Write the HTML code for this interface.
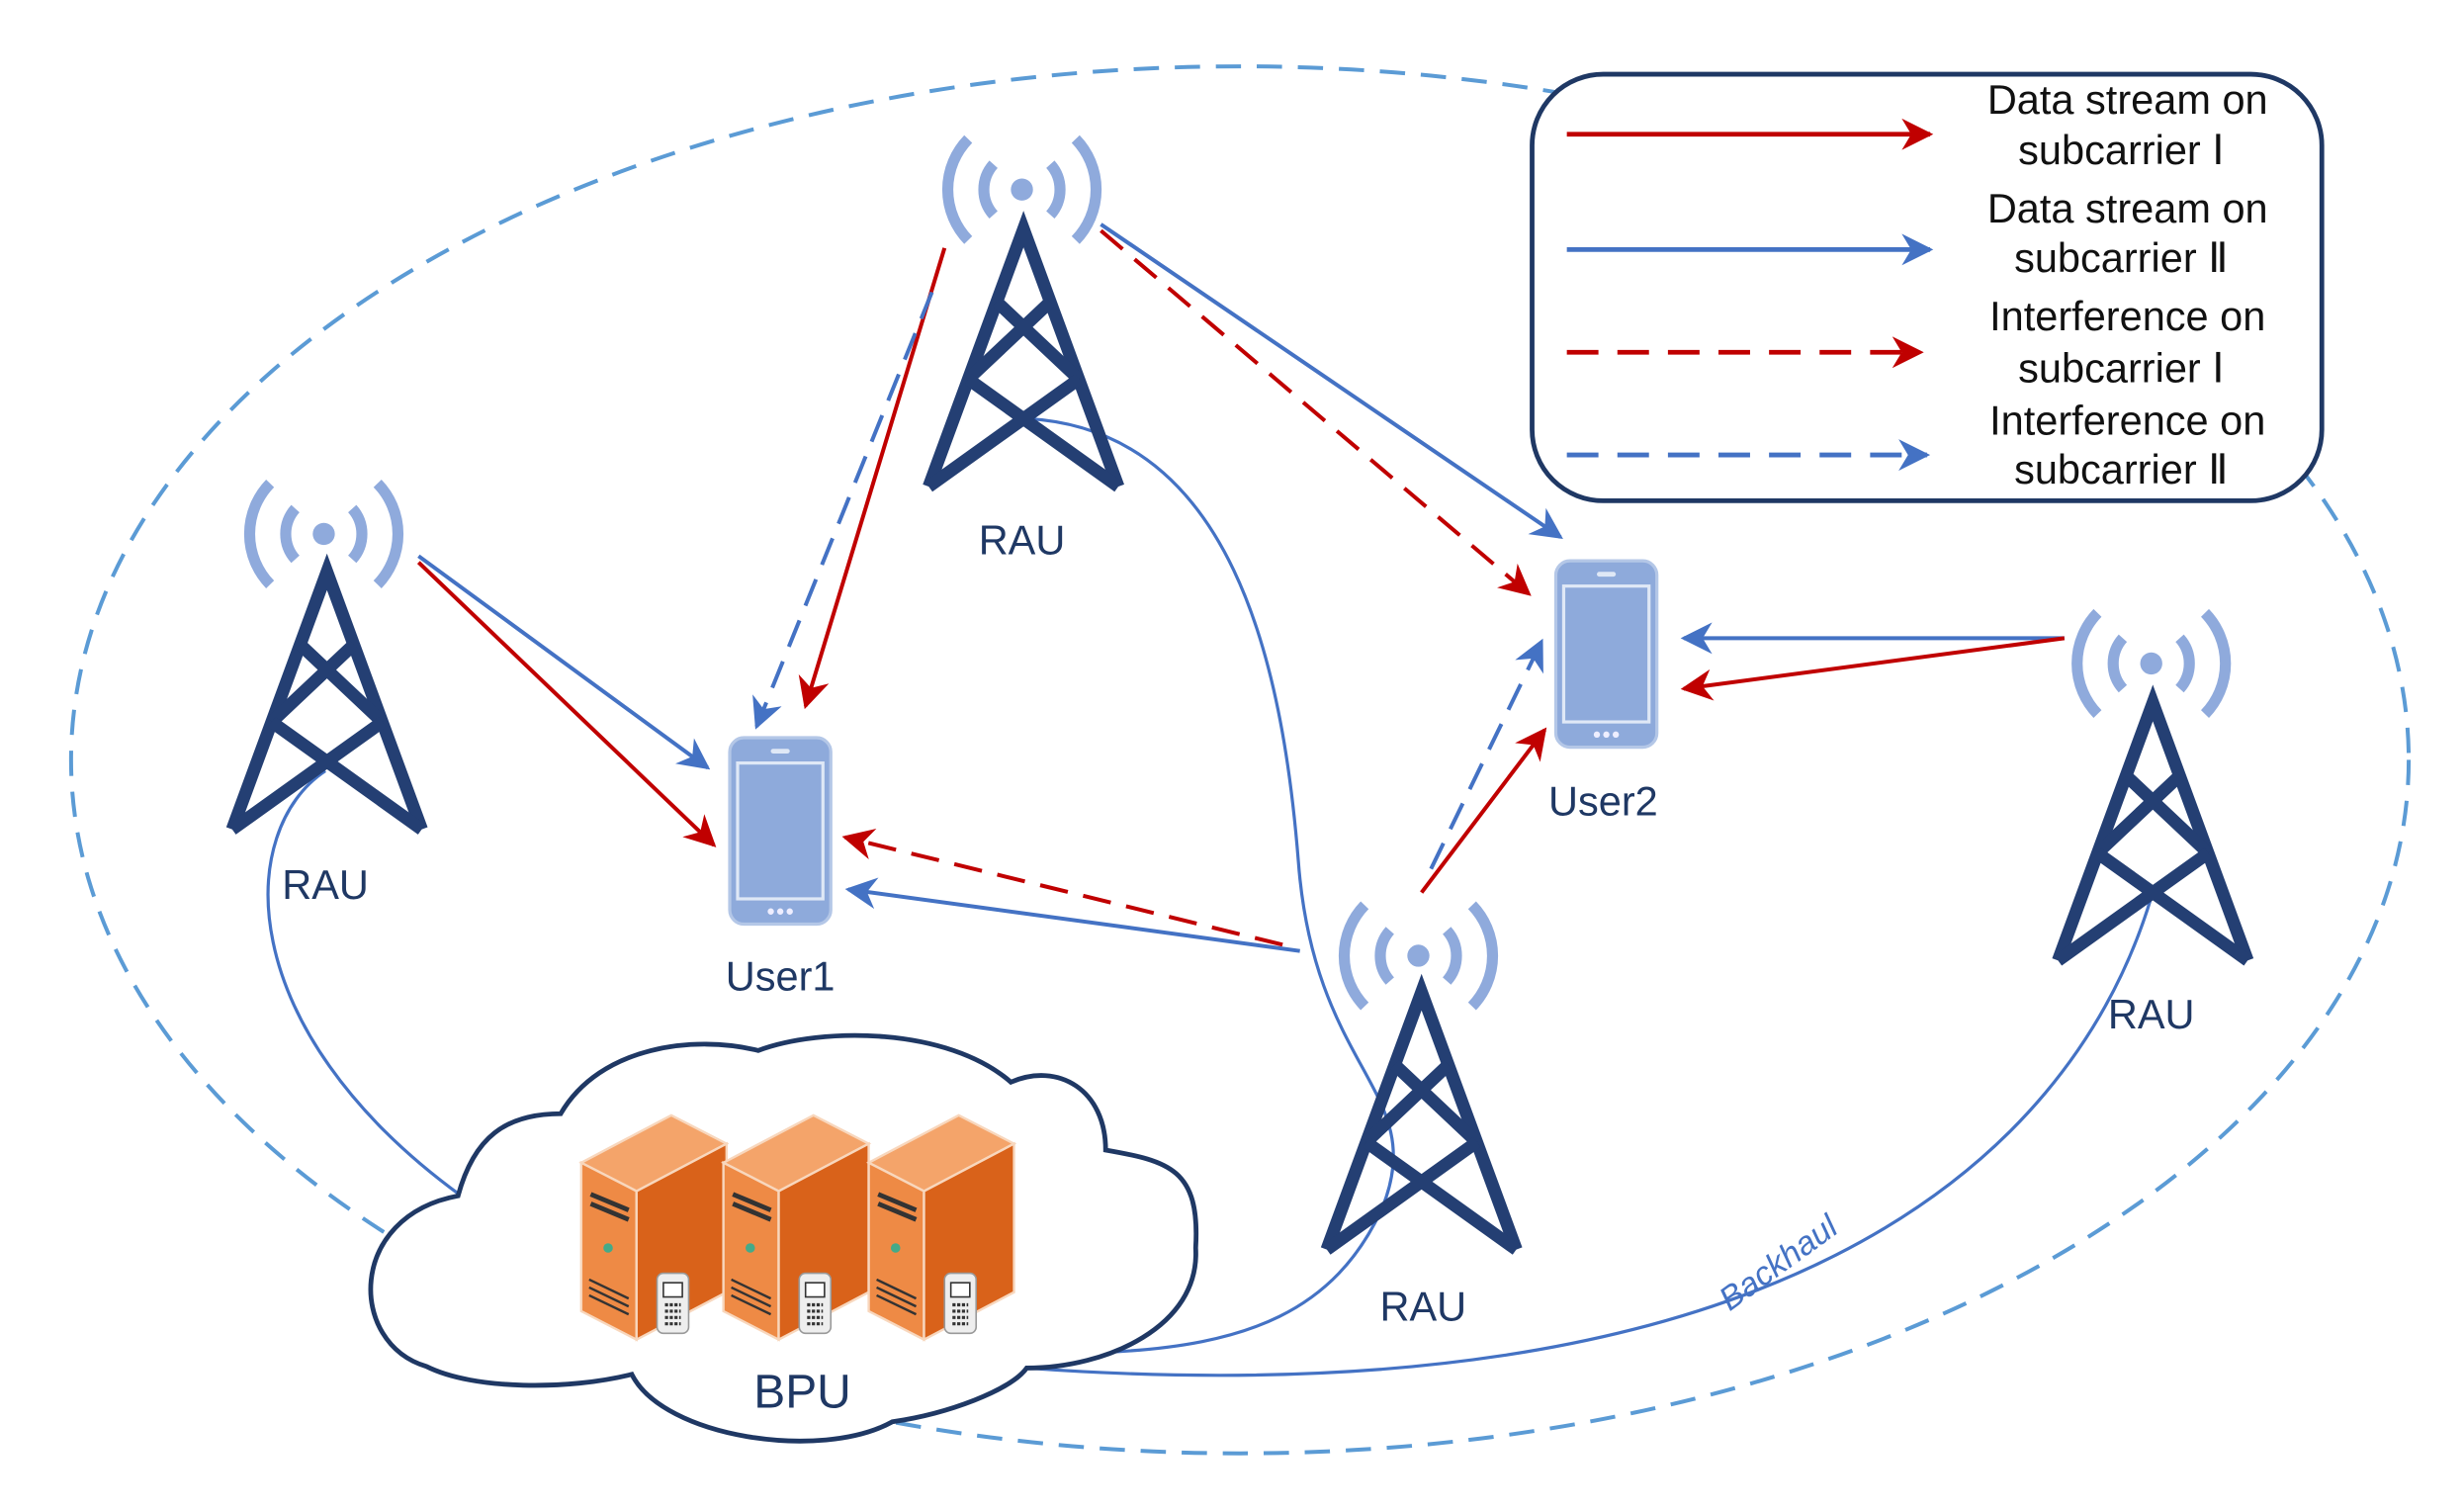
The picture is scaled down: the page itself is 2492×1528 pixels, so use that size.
<!DOCTYPE html>
<html><head><meta charset="utf-8"><style>
html,body{margin:0;padding:0;background:#fff;}
svg{display:block;}
text{font-family:"Liberation Sans","DejaVu Sans",sans-serif;}
</style></head><body>
<svg width="2492" height="1528" viewBox="0 0 1560 956.5" preserveAspectRatio="none" xmlns="http://www.w3.org/2000/svg">
<defs>
<marker id="ar" viewBox="0 0 10 10" refX="9" refY="5" markerWidth="7" markerHeight="7" markerUnits="userSpaceOnUse" orient="auto"><path d="M0,0 L10,5 L0,10 L3,5 Z" fill="#c00000"/></marker>
<marker id="ab" viewBox="0 0 10 10" refX="9" refY="5" markerWidth="7" markerHeight="7" markerUnits="userSpaceOnUse" orient="auto"><path d="M0,0 L10,5 L0,10 L3,5 Z" fill="#4472c4"/></marker>
<marker id="arL" viewBox="0 0 10 10" refX="9" refY="5" markerWidth="20" markerHeight="20" markerUnits="userSpaceOnUse" orient="auto"><path d="M0,0 L10,5 L0,10 L3,5 Z" fill="#c00000"/></marker>
<marker id="abL" viewBox="0 0 10 10" refX="9" refY="5" markerWidth="20" markerHeight="20" markerUnits="userSpaceOnUse" orient="auto"><path d="M0,0 L10,5 L0,10 L3,5 Z" fill="#4472c4"/></marker>
<g id="tower" fill="none" stroke="#243f73" stroke-width="8" stroke-linejoin="miter">
  <path d="M-60,163 L0,0 L60,163"/>
  <path d="M-17,46 L35,95 M17,46 L-35,95"/>
  <path d="M-35,95 L60,163 M35,95 L-60,163"/>
</g>
<g id="waves" fill="none" stroke="#8faadc" stroke-width="7">
  <circle cx="0" cy="0" r="7" fill="#8faadc" stroke="none"/>
  <path d="M-18,-16 A24,24 0 0 0 -18,16 M18,-16 A24,24 0 0 1 18,16"/>
  <path d="M-34,-32 A46,46 0 0 0 -34,32 M34,-32 A46,46 0 0 1 34,32"/>
</g>
<g id="phone">
  <rect x="0" y="0" width="64" height="118" rx="9" fill="#8eaadb" stroke="#b4c7e7" stroke-width="2"/>
  <rect x="5" y="16" width="54" height="86" fill="#8eaadb" stroke="#dfe8f6" stroke-width="2"/>
  <rect x="26" y="7" width="12" height="3" rx="1.5" fill="#dfe8f6"/>
  <circle cx="26" cy="110" r="2" fill="#eef"/><circle cx="32" cy="110" r="2" fill="#eef"/><circle cx="38" cy="110" r="2" fill="#eef"/>
</g>
<g id="server">
  <path d="M0,30 L57,0 L92,18 L35,48 Z" fill="#f4a46a" stroke="#f8d7bd" stroke-width="1.5"/>
  <path d="M0,30 L35,48 L35,142 L0,124 Z" fill="#ee8a45" stroke="#f8d7bd" stroke-width="1.5"/>
  <path d="M35,48 L92,18 L92,112 L35,142 Z" fill="#d9621a" stroke="#f8d7bd" stroke-width="1.5"/>
  <path d="M6,50 L30,60 M6,56 L30,66" stroke="#333" stroke-width="3"/>
  <circle cx="17" cy="84" r="3" fill="#4a8"/>
  <path d="M5,104 L30,116 M5,109 L30,121 M5,114 L30,126" stroke="#333" stroke-width="1.5"/>
  <rect x="48" y="100" width="20" height="38" rx="4" fill="#eee" stroke="#999" stroke-width="1"/>
  <rect x="52" y="106" width="12" height="9" fill="#fff" stroke="#333" stroke-width="1"/>
  <path d="M53,120 h10 M53,124 h10 M53,128 h10 M53,132 h10" stroke="#333" stroke-width="2" stroke-dasharray="2,1"/>
</g>
</defs>

<!-- big dashed ellipse -->
<ellipse cx="785" cy="481" rx="740" ry="439" fill="none" stroke="#5b9bd5" stroke-width="2.5" stroke-dasharray="16,10"/>

<!-- backhaul lines -->
<g fill="none" stroke="#4472c4" stroke-width="2">
  <path d="M206,488 C150,525 145,650 292,757"/>
  <path d="M650,265 C780,272 812,420 822,545 C832,680 905,690 875,765 C845,830 790,852 700,856"/>
  <path d="M1362,568 C1310,740 1120,900 650,866"/>
</g>
<text x="1130" y="805" font-size="21" fill="#4472c4" font-style="italic" transform="rotate(-36 1130 805)" text-anchor="middle">Backhaul</text>

<!-- cloud -->
<path d="M290,757 C220,770 220,850 270,865 C300,880 360,880 400,870 C420,910 520,925 565,900 C600,895 640,880 650,866 C700,866 760,840 757,790 C760,740 740,735 700,728 C700,690 670,672 640,685 C600,650 520,650 480,665 C440,655 380,662 355,705 C320,705 300,720 290,757 Z" fill="#fff" stroke="#1f3864" stroke-width="3"/>
<use href="#server" x="368" y="706"/>
<use href="#server" x="458" y="706"/>
<use href="#server" x="550" y="706"/>
<text x="508" y="891" font-size="30" fill="#1f3864" text-anchor="middle">BPU</text>

<!-- towers -->
<use href="#tower" x="207" y="362"/><use href="#waves" x="205" y="338"/>
<use href="#tower" x="648" y="145"/><use href="#waves" x="647" y="120"/>
<use href="#tower" x="900" y="628"/><use href="#waves" x="898" y="605"/>
<use href="#tower" x="1363" y="445"/><use href="#waves" x="1362" y="420"/>

<g font-size="26" fill="#1f3864" text-anchor="middle">
<text x="206" y="569">RAU</text>
<text x="647" y="351">RAU</text>
<text x="901" y="836">RAU</text>
<text x="1362" y="651">RAU</text>
<text x="494" y="627">User1</text>
<text x="1015" y="516">User2</text>
</g>

<!-- phones -->
<use href="#phone" x="462" y="467"/>
<use href="#phone" x="985" y="355"/>

<!-- arrows -->
<g fill="none" stroke-width="2.5">
  <path d="M265,352 L448,486" stroke="#4472c4" marker-end="url(#abL)"/>
  <path d="M265,356 L452,535" stroke="#c00000" marker-end="url(#arL)"/>
  <path d="M598,157 L510,447" stroke="#c00000" marker-end="url(#arL)"/>
  <path d="M590,185 L479,460" stroke="#4472c4" stroke-dasharray="18,10" marker-end="url(#abL)"/>
  <path d="M697,142 L988,340" stroke="#4472c4" marker-end="url(#abL)"/>
  <path d="M697,146 L968,376" stroke="#c00000" stroke-dasharray="18,10" marker-end="url(#arL)"/>
  <path d="M1307,404 L1066,404" stroke="#4472c4" marker-end="url(#abL)"/>
  <path d="M1307,404 L1066,436" stroke="#c00000" marker-end="url(#arL)"/>
  <path d="M823,602 L537,563" stroke="#4472c4" marker-end="url(#abL)"/>
  <path d="M812,598 L535,530" stroke="#c00000" stroke-dasharray="18,10" marker-end="url(#arL)"/>
  <path d="M900,565 L978,462" stroke="#c00000" marker-end="url(#arL)"/>
  <path d="M906,550 L976,406" stroke="#4472c4" stroke-dasharray="18,10" marker-end="url(#abL)"/>
</g>

<!-- legend -->
<rect x="970" y="47" width="500" height="270" rx="45" fill="#fff" stroke="#1f3864" stroke-width="3"/>
<g fill="none" stroke-width="3">
  <path d="M992,85 L1222,85" stroke="#c00000" marker-end="url(#arL)"/>
  <path d="M992,158 L1222,158" stroke="#4472c4" marker-end="url(#abL)"/>
  <path d="M992,223 L1216,223" stroke="#c00000" stroke-dasharray="20,12" marker-end="url(#arL)"/>
  <path d="M992,288 L1220,288" stroke="#4472c4" stroke-dasharray="20,12" marker-end="url(#abL)"/>
</g>
<g font-size="26" fill="#111" text-anchor="middle">
<text x="1347" y="72">Data stream on</text>
<text x="1343" y="104">subcarrier Ⅰ</text>
<text x="1347" y="141">Data stream on</text>
<text x="1343" y="172">subcarrier Ⅱ</text>
<text x="1347" y="209">Interference on</text>
<text x="1343" y="242">subcarrier Ⅰ</text>
<text x="1347" y="275">Interference on</text>
<text x="1343" y="306">subcarrier Ⅱ</text>
</g>
</svg>
</body></html>
